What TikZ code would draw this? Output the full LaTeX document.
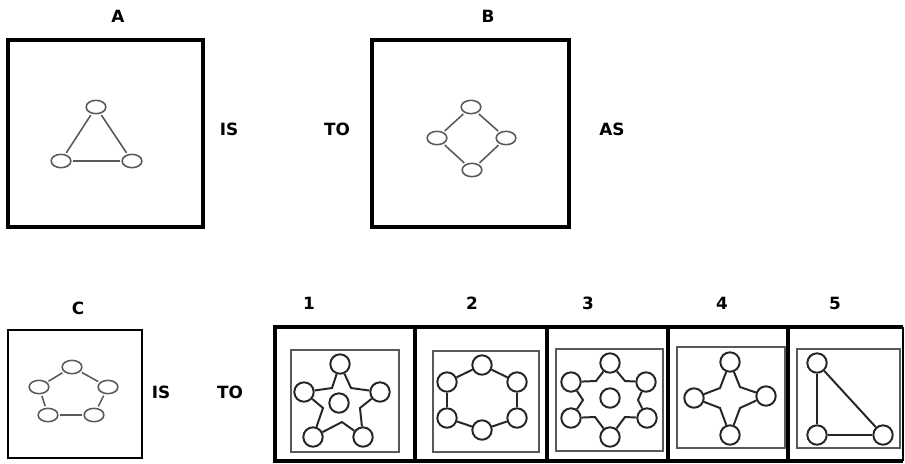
\documentclass[tikz,border=0pt]{standalone}
\usepackage{fontspec}
\setmainfont{DejaVu Sans}
\usetikzlibrary{shapes.geometric}

\begin{document}
\begin{tikzpicture}[x=0.025cm,y=-0.025cm,
  lbl/.style={font=\bfseries\fontsize{12}{14}\selectfont},
  oval/.style={draw=black!65,line width=1.1pt,ellipse,inner sep=0pt,minimum width=14pt,minimum height=9.5pt},
  ring/.style={draw=black!85,line width=1.4pt,circle,inner sep=0pt,minimum size=13.8pt},
  link/.style={draw=black!65,line width=1.1pt,shorten <=1.2pt,shorten >=1.2pt},
  bond/.style={draw=black!85,line width=1.4pt},
  frame/.style={draw=black!65,line width=1.3pt}]
\useasboundingbox (0,0) rectangle (905,463);
\fill[white] (0,0) rectangle (905,463);
\node[lbl] (labA) at (118,16) {A};
\node[lbl] (labB) at (488,16) {B};
\node[lbl] (is1) at (229,129) {IS};
\node[lbl] (to1) at (337,129) {TO};
\node[lbl] (as1) at (612,129) {AS};
\node[lbl] (labC) at (78,308) {C};
\node[lbl] (is2) at (161,392) {IS};
\node[lbl] (to2) at (230,392) {TO};
\node[lbl] (n1) at (309,303) {1};
\node[lbl] (n2) at (472,303) {2};
\node[lbl] (n3) at (588,303) {3};
\node[lbl] (n4) at (722,303) {4};
\node[lbl] (n5) at (835,303) {5};
\draw[line width=2.8pt] (8,40) rectangle (203,227);
\draw[line width=2.8pt] (372,40) rectangle (569,227);
\draw[line width=1.6pt] (8,330) rectangle (142,458);
\draw[line width=2.8pt] (903,327) -- (275,327) -- (275,461) -- (903,461);
\draw[line width=0.8pt] (903,327) -- (903,461);
\draw[line width=2.8pt] (415,327) -- (415,461);
\draw[line width=2.8pt] (547,327) -- (547,461);
\draw[line width=2.8pt] (668,327) -- (668,461);
\draw[line width=2.8pt] (788,327) -- (788,461);
\draw[frame] (291,350) rectangle (399,452);
\draw[frame] (433,351) rectangle (539,452);
\draw[frame] (556,349) rectangle (663,451);
\draw[frame] (677,347) rectangle (785,448);
\draw[frame] (797,349) rectangle (900,448);
\node[oval] (a1) at (96,107) {};
\node[oval] (a2) at (61,161) {};
\node[oval] (a3) at (132,161) {};
\draw[link] (a1) -- (a2);
\draw[link] (a2) -- (a3);
\draw[link] (a3) -- (a1);
\node[oval] (b1) at (471,107) {};
\node[oval] (b2) at (437,138) {};
\node[oval] (b3) at (506,138) {};
\node[oval] (b4) at (472,170) {};
\draw[link] (b1) -- (b2);
\draw[link] (b1) -- (b3);
\draw[link] (b2) -- (b4);
\draw[link] (b3) -- (b4);
\node[oval] (c1) at (72,367) {};
\node[oval] (c2) at (108,387) {};
\node[oval] (c3) at (94,415) {};
\node[oval] (c4) at (48,415) {};
\node[oval] (c5) at (39,387) {};
\draw[link] (c1) -- (c2);
\draw[link] (c2) -- (c3);
\draw[link] (c3) -- (c4);
\draw[link] (c4) -- (c5);
\draw[link] (c5) -- (c1);
\node[ring] (p0) at (339,403) {};
\node[ring] (p1) at (340,364) {};
\node[ring] (p2) at (380,392) {};
\node[ring] (p3) at (363,437) {};
\node[ring] (p4) at (313,437) {};
\node[ring] (p5) at (304,392) {};
\coordinate (k1) at (351,388);
\coordinate (k2) at (360,408);
\coordinate (k3) at (342,422);
\coordinate (k4) at (323,408);
\coordinate (k5) at (332,388);
\draw[bond] (p1) -- (k1) -- (p2);
\draw[bond] (p2) -- (k2) -- (p3);
\draw[bond] (p3) -- (k3) -- (p4);
\draw[bond] (p4) -- (k4) -- (p5);
\draw[bond] (p5) -- (k5) -- (p1);
\node[ring] (q1) at (482,365) {};
\node[ring] (q2) at (517,382) {};
\node[ring] (q3) at (517,418) {};
\node[ring] (q4) at (482,430) {};
\node[ring] (q5) at (447,418) {};
\node[ring] (q6) at (447,382) {};
\draw[bond] (q1) -- (q2);
\draw[bond] (q2) -- (q3);
\draw[bond] (q3) -- (q4);
\draw[bond] (q4) -- (q5);
\draw[bond] (q5) -- (q6);
\draw[bond] (q6) -- (q1);
\node[ring] (r0) at (610,398) {};
\node[ring] (r1) at (610,363) {};
\node[ring] (r2) at (646,382) {};
\node[ring] (r3) at (647,418) {};
\node[ring] (r4) at (610,437) {};
\node[ring] (r5) at (571,418) {};
\node[ring] (r6) at (571,382) {};
\coordinate (m1) at (625,381);
\coordinate (m2) at (638,400);
\coordinate (m3) at (625,417);
\coordinate (m4) at (595,417);
\coordinate (m5) at (583,400);
\coordinate (m6) at (596,381);
\draw[bond] (r1) -- (m1) -- (r2);
\draw[bond] (r2) -- (m2) -- (r3);
\draw[bond] (r3) -- (m3) -- (r4);
\draw[bond] (r4) -- (m4) -- (r5);
\draw[bond] (r5) -- (m5) -- (r6);
\draw[bond] (r6) -- (m6) -- (r1);
\node[ring] (s1) at (730,362) {};
\node[ring] (s2) at (766,396) {};
\node[ring] (s3) at (730,435) {};
\node[ring] (s4) at (694,398) {};
\coordinate (g1) at (740,387);
\coordinate (g2) at (740,408);
\coordinate (g3) at (720,408);
\coordinate (g4) at (720,388);
\draw[bond] (s1) -- (g1) -- (s2);
\draw[bond] (s2) -- (g2) -- (s3);
\draw[bond] (s3) -- (g3) -- (s4);
\draw[bond] (s4) -- (g4) -- (s1);
\node[ring] (t1) at (817,363) {};
\node[ring] (t2) at (817,435) {};
\node[ring] (t3) at (883,435) {};
\draw[bond] (t1) -- (t2);
\draw[bond] (t2) -- (t3);
\draw[bond] (t1) -- (t3);
\end{tikzpicture}
\end{document}
